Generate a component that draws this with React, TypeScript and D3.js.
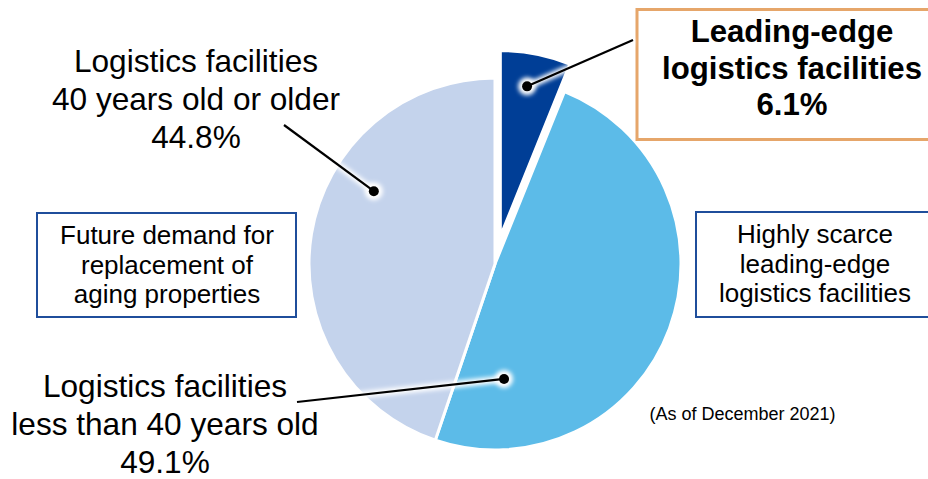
import React from "react";
import * as d3 from "d3";

// ---- data ----
const categories = [
  "Leading-edge logistics facilities",
  "Logistics facilities less than 40 years old",
  "Logistics facilities 40 years old or older",
];
const shares = [6.1, 49.1, 44.8];
const sliceColors = ["#003E96", "#5CBBE8", "#C4D3EC"];
const explodedIndex = 0;

const labelLines = [
  ["Leading-edge", "logistics facilities", "6.1%"],
  ["Logistics facilities", "less than 40 years old", "49.1%"],
  ["Logistics facilities", "40 years old or older", "44.8%"],
];
const noteLeft = ["Future demand for", "replacement of", "aging properties"];
const noteRight = ["Highly scarce", "leading-edge", "logistics facilities"];
const asOf = "(As of December 2021)";

// ---- layout ----
const W = 928;
const H = 479;
const CX = 495;
const CY = 264;
const R = 186;
const EXPLODE = 28;
const FONT = "'Liberation Sans', Arial, Helvetica, sans-serif";

// leader anchors: angle (deg, clockwise from 12 o'clock), radius fraction, outer end
const leaders = [
  { angle: 10.1, frac: 0.82, end: [633, 40] },
  { angle: 175.5, frac: 0.62, end: [297, 402] },
  { angle: 301, frac: 0.76, end: [284, 125] },
];

const labelPos = [
  { x: 792, y: 42, dy: 36.5, size: 31.2, weight: 700 },
  { x: 165, y: 397, dy: 38, size: 31.6, weight: 400 },
  { x: 196, y: 72, dy: 38, size: 31.6, weight: 400 },
];

export default function App() {
  const pie = d3
    .pie<number>()
    .sort(null)
    .value((d) => d)
    .startAngle(0)
    .endAngle(2 * Math.PI);
  const arcs = pie(shares);
  const arc = d3.arc<d3.PieArcDatum<number>>().innerRadius(0).outerRadius(R);

  const offsetOf = (i: number) => {
    if (i !== explodedIndex) return [0, 0];
    const a = (arcs[i].startAngle + arcs[i].endAngle) / 2;
    return [EXPLODE * Math.sin(a), -EXPLODE * Math.cos(a)];
  };

  return (
    <svg
      width={W}
      height={H}
      viewBox={`0 0 ${W} ${H}`}
      style={{ position: "absolute", left: 0, top: 0, background: "#fff" }}
      fontFamily={FONT}
    >
      <defs>
        <filter id="glow" x="-50%" y="-50%" width="200%" height="200%">
          <feGaussianBlur stdDeviation="2" />
        </filter>
      </defs>
      <rect x={0} y={0} width={W} height={H} fill="#fff" />

      {/* slices */}
      {arcs.map((a, i) => {
        const [ox, oy] = offsetOf(i);
        return (
          <path
            key={categories[i]}
            d={arc(a) || ""}
            transform={`translate(${CX + ox},${CY + oy})`}
            fill={sliceColors[i]}
            stroke="#fff"
            strokeWidth={3}
            strokeLinejoin="miter"
          />
        );
      })}

      {/* boxes */}
      <rect x={637} y={9.5} width={310} height={130} fill="#fff" stroke="#E6A66A" strokeWidth={3} />
      <rect x={37} y={213} width={259} height={104} fill="none" stroke="#1F4E9B" strokeWidth={2} />
      <rect x={696} y={212} width={250} height={105} fill="none" stroke="#1F4E9B" strokeWidth={2} />

      {/* leader lines */}
      {leaders.map((l, i) => {
        const [ox, oy] = offsetOf(i);
        const t = (l.angle * Math.PI) / 180;
        const px = CX + ox + l.frac * R * Math.sin(t);
        const py = CY + oy - l.frac * R * Math.cos(t);
        return (
          <g key={"leader" + i}>
            <line
              x1={px}
              y1={py}
              x2={l.end[0]}
              y2={l.end[1]}
              stroke="#fff"
              strokeWidth={7}
              filter="url(#glow)"
            />
            <circle cx={px} cy={py} r={9} fill="#fff" filter="url(#glow)" />
            <line x1={px} y1={py} x2={l.end[0]} y2={l.end[1]} stroke="#000" strokeWidth={2.2} />
            <circle cx={px} cy={py} r={5} fill="#000" />
          </g>
        );
      })}

      {/* main labels */}
      {labelLines.map((lines, i) => (
        <text
          key={"lbl" + i}
          textAnchor="middle"
          fontSize={labelPos[i].size}
          fontWeight={labelPos[i].weight}
          fill="#000"
        >
          {lines.map((s, j) => (
            <tspan key={j} x={labelPos[i].x} y={labelPos[i].y + j * labelPos[i].dy}>
              {s}
            </tspan>
          ))}
        </text>
      ))}

      {/* notes */}
      <text textAnchor="middle" fontSize={26} fill="#000">
        {noteLeft.map((s, j) => (
          <tspan key={j} x={167} y={244 + j * 29.5}>
            {s}
          </tspan>
        ))}
      </text>
      <text textAnchor="middle" fontSize={26} fill="#000">
        {noteRight.map((s, j) => (
          <tspan key={j} x={815} y={243 + j * 29.5}>
            {s}
          </tspan>
        ))}
      </text>
      <text x={742.5} y={420} textAnchor="middle" fontSize={18} fill="#000">
        {asOf}
      </text>
    </svg>
  );
}
